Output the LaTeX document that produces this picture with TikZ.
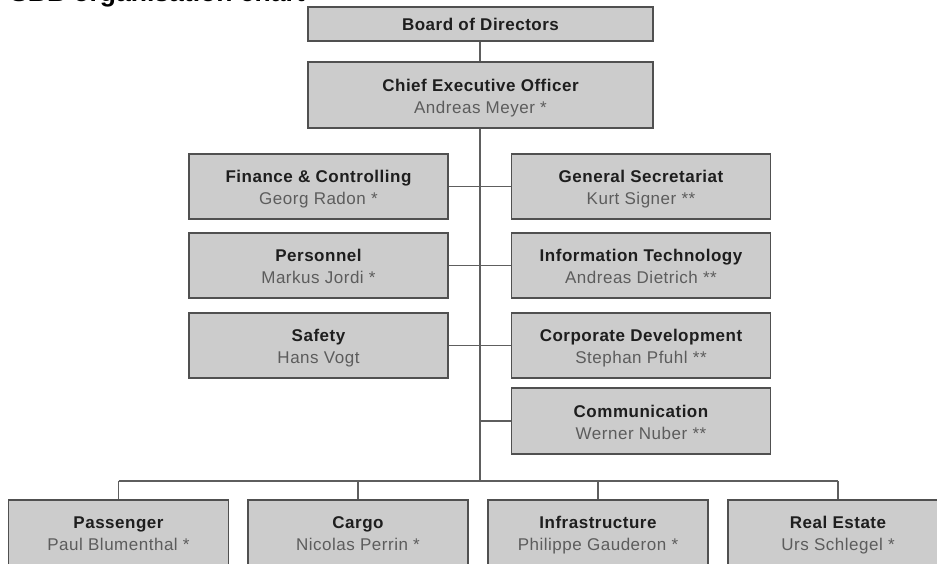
\documentclass[tikz,border=0pt]{standalone}
\usepackage{fontspec}
\setmainfont[LetterSpace=3]{Liberation Sans}
\newfontfamily\titlefont{Liberation Sans}
\usetikzlibrary{shadows}
\definecolor{boxfill}{HTML}{CCCCCC}
\definecolor{boxline}{HTML}{505050}
\definecolor{linkline}{HTML}{5E5E5E}
\definecolor{headtext}{HTML}{1E1E1E}
\definecolor{nametext}{HTML}{5C5C5C}
% two-line box text: unit title in bold, holder's name in grey
\newcommand{\unit}[2]{\textbf{\color{headtext}\rule{0pt}{18pt}#1}\\{\color{nametext}\vphantom{Ag}#2}}
\begin{document}
\begin{tikzpicture}[x=1pt,y=-1pt,
  orgbox/.style={rectangle, draw=boxline, line width=1.3pt, fill=boxfill,
    inner sep=0pt, align=center,
    font=\fontsize{17}{22}\selectfont,
    drop shadow={shadow xshift=0.8pt, shadow yshift=-1.2pt, fill=black!60, opacity=0.7}},
  wide/.style={orgbox, minimum width=345pt},
  side/.style={orgbox, minimum width=259pt, minimum height=65pt},
  unitbox/.style={orgbox, minimum width=220pt, minimum height=65pt},
  link/.style={draw=linkline, line width=1.7pt}]
\useasboundingbox (0,0) rectangle (937,563);
\fill[white] (0,0) rectangle (937,563);

% heading, mostly above the page edge
\node[anchor=base west, inner sep=0pt, font=\titlefont\fontsize{26.5}{30}\selectfont\bfseries]
  (heading) at (10,1) {SBB organisation chart};

% junction points of the connectors
\coordinate (busmid) at (480,481);
\coordinate (busleft) at (118.5,481);
\coordinate (busright) at (838,481);
\coordinate (commjoin) at (480,421);

% connectors (drawn first so the boxes sit on top)
\path[link] (480,41) -- (480,62);
\path[link] (480,128) -- (busmid);
\path[link] (448,186.5) -- (511,186.5);
\path[link] (448,265.5) -- (511,265.5);
\path[link] (448,345.5) -- (511,345.5);
\path[link] (commjoin) -- (511,421);
\path[link] (busleft) -- (busright);
\path[link] (busleft) -- (118.5,500);
\path[link] (358,481) -- (358,500);
\path[link] (598,481) -- (598,500);
\path[link] (busright) -- (838,500);

% boxes
\node[wide, minimum height=34pt] (board) at (480.5,24)
  {\textbf{\color{headtext}\rule{0pt}{16pt}Board of Directors\vphantom{g}}};
\node[wide, minimum height=66pt] (ceo) at (480.5,95)
  {\unit{Chief Executive Officer}{Andreas Meyer *}};

\node[side] (fin) at (318.5,186.5) {\unit{Finance \& Controlling}{Georg Radon *}};
\node[side] (gs)  at (641,186.5)   {\unit{General Secretariat}{Kurt Signer **}};
\node[side] (pers) at (318.5,265.5) {\unit{Personnel}{Markus Jordi *}};
\node[side] (it)   at (641,265.5)   {\unit{Information Technology}{Andreas Dietrich **}};
\node[side] (safe) at (318.5,345.5) {\unit{Safety}{Hans Vogt}};
\node[side] (corp) at (641,345.5)   {\unit{Corporate Development}{Stephan Pfuhl **}};
\node[side, minimum height=66pt] (comm) at (641,421) {\unit{Communication}{Werner Nuber **}};

\node[unitbox] (pass)  at (118.5,532.5) {\unit{Passenger}{Paul Blumenthal *}};
\node[unitbox] (cargo) at (358,532.5)   {\unit{Cargo}{Nicolas Perrin *}};
\node[unitbox] (infra) at (598,532.5)   {\unit{Infrastructure}{Philippe Gauderon *}};
\node[unitbox] (real)  at (838,532.5)   {\unit{Real Estate}{Urs Schlegel *}};
\end{tikzpicture}
\end{document}
